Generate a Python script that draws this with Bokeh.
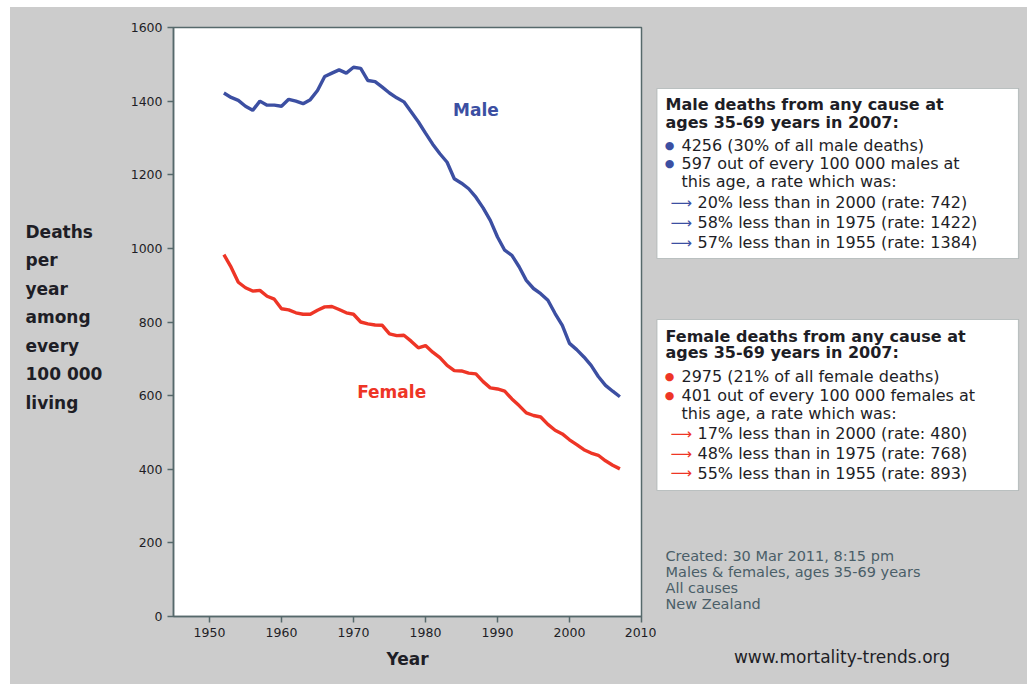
from bokeh.plotting import figure
from bokeh.layouts import row
from bokeh.models import Label, BoxAnnotation, FixedTicker, Range1d, LinearAxis
from bokeh.embed import file_html
from bokeh.resources import INLINE

# ---------------- data ----------------
years = list(range(1952, 2008))
male = [1422, 1410, 1402, 1386, 1375, 1400, 1389, 1389, 1386, 1405,
        1400, 1393, 1404, 1429, 1467, 1476, 1485, 1476, 1492, 1489,
        1456, 1453, 1438, 1422, 1409, 1398, 1371, 1344, 1313, 1283,
        1257, 1234, 1189, 1177, 1162, 1139, 1110, 1076, 1031, 995,
        981, 950, 913, 891, 877, 859, 823, 791, 742, 725,
        705, 682, 652, 628, 612, 597]
female = [983, 949, 908, 893, 884, 886, 870, 862, 836, 833,
          825, 821, 821, 832, 841, 842, 834, 825, 821, 800,
          795, 792, 791, 768, 763, 764, 748, 730, 736, 718,
          703, 682, 668, 667, 661, 659, 638, 621, 618, 612,
          591, 573, 553, 546, 542, 522, 506, 496, 480, 467,
          453, 444, 438, 423, 411, 401]
x_ticks = [1950, 1960, 1970, 1980, 1990, 2000, 2010]
y_ticks = [0, 200, 400, 600, 800, 1000, 1200, 1400, 1600]
y_label_lines = ["Deaths", "per", "year", "among", "every", "100 000", "living"]
male_box = ["Male deaths from any cause at", "ages 35-69 years in 2007:",
            "4256 (30% of all male deaths)", "597 out of every 100 000 males at",
            "this age, a rate which was:",
            "20% less than in 2000 (rate: 742)",
            "58% less than in 1975 (rate: 1422)",
            "57% less than in 1955 (rate: 1384)"]
female_box = ["Female deaths from any cause at", "ages 35-69 years in 2007:",
              "2975 (21% of all female deaths)", "401 out of every 100 000 females at",
              "this age, a rate which was:",
              "17% less than in 2000 (rate: 480)",
              "48% less than in 1975 (rate: 768)",
              "55% less than in 1955 (rate: 893)"]
footer = ["Created: 30 Mar 2011, 8:15 pm", "Males & females, ages 35-69 years",
          "All causes", "New Zealand"]
website = "www.mortality-trends.org"

# ---------------- style ----------------
FONT = "DejaVu Sans"
BG = "#cccccc"
AX = "#56696b"
BLUE = "#3c4fa2"
RED = "#ee3526"
DARK = "#1e1e26"

X0, Y0 = 10, 7          # page position of the drawing
HT = 677
LW, CW = 110, 536       # widths of left label panel and chart
CX0 = X0 + LW           # chart left on page (120)
RX0 = CX0 + CW          # right panel left on page (656)
RW = 1027 - RX0
FL, FT, FR, FB = 173, 27, 641, 616   # frame on page
BT, BB = FT - Y0, Y0 + HT - FB       # top / bottom borders


def panel(x0, w):
    f = figure(width=w, height=HT, output_backend="svg", toolbar_location=None,
               x_range=Range1d(x0, x0 + w), y_range=Range1d(FB, FT),
               x_axis_type=None, y_axis_type=None,
               min_border_left=0, min_border_right=0,
               min_border_top=BT, min_border_bottom=BB)
    f.border_fill_color = BG
    f.background_fill_color = None
    f.outline_line_color = None
    f.xgrid.visible = False
    f.ygrid.visible = False
    return f


def lab(f, text, px, py, size, color, bold=False, align="left"):
    f.add_layout(Label(x=px, y=py, text=text, text_font=FONT, text_font_size=f"{size}px",
                       text_color=color, text_font_style="bold" if bold else "normal",
                       text_align=align, text_baseline="middle"))


# ---------------- chart ----------------
p = figure(width=CW, height=HT, output_backend="svg", toolbar_location=None,
           x_range=Range1d(1945, 2010), y_range=Range1d(0, 1600),
           min_border_left=FL - CX0, min_border_top=BT,
           min_border_right=RX0 - FR, min_border_bottom=BB)
p.border_fill_color = BG
p.background_fill_color = "white"
p.outline_line_color = AX
p.outline_line_width = 1.5
p.xgrid.visible = False
p.ygrid.visible = False

for ax in (p.xaxis[0], p.yaxis[0]):
    ax.axis_line_color = AX
    ax.axis_line_width = 1.5
    ax.major_tick_line_color = AX
    ax.major_tick_line_width = 1.5
    ax.major_tick_out = 6
    ax.major_tick_in = 0
    ax.minor_tick_line_color = None
    ax.major_label_text_font = FONT
    ax.major_label_text_font_size = "12.5px"
    ax.major_label_text_color = DARK
    ax.major_label_standoff = 5
p.xaxis.ticker = FixedTicker(ticks=x_ticks)
p.yaxis.ticker = FixedTicker(ticks=y_ticks)
p.xaxis.axis_label = "Year"
p.xaxis.axis_label_text_font = FONT
p.xaxis.axis_label_text_font_size = "17px"
p.xaxis.axis_label_text_font_style = "bold"
p.xaxis.axis_label_text_color = DARK
p.xaxis.axis_label_standoff = 9

p.line(years, male, line_width=3.4, color=BLUE)
p.line(years, female, line_width=3.4, color=RED)

p.add_layout(Label(x=1987, y=1375, text="Male", text_font=FONT, text_font_size="17px",
                   text_font_style="bold", text_color=BLUE, text_align="center",
                   text_baseline="middle"))
p.add_layout(Label(x=1975.3, y=609, text="Female", text_font=FONT, text_font_size="17px",
                   text_font_style="bold", text_color=RED, text_align="center",
                   text_baseline="middle"))

# ---------------- left panel: y axis title ----------------
left = panel(X0, LW)
for i, t in enumerate(y_label_lines):
    lab(left, t, 25, 231 + i * 28.5, 17, DARK, bold=True)

# ---------------- right panel: info boxes & footer ----------------
right = panel(RX0, RW)


def info_box(lines, top, bottom, color, ys):
    right.add_layout(BoxAnnotation(left=RX0 + 0.5, right=1018, top=top, bottom=bottom,
                                   fill_color="white", fill_alpha=1.0,
                                   line_color=AX, line_width=1.2))
    lab(right, lines[0], 665, ys[0], 16, DARK, bold=True)
    lab(right, lines[1], 665, ys[1], 16, DARK, bold=True)
    lab(right, "\u25CF", 669, ys[2], 11, color, align="center")
    lab(right, lines[2], 681, ys[2], 16, DARK)
    lab(right, "\u25CF", 669, ys[3], 11, color, align="center")
    lab(right, lines[3], 681, ys[3], 16, DARK)
    lab(right, lines[4], 681, ys[4], 16, DARK)
    for k in range(3):
        lab(right, "\u27F6", 670, ys[5 + k], 15, color)
        lab(right, lines[5 + k], 697, ys[5 + k], 16, DARK)


info_box(male_box, 88, 258, BLUE, [104, 121.5, 144.5, 162.5, 181, 202, 222, 242])
info_box(female_box, 319, 490, RED, [335.5, 352, 375.5, 395, 412.5, 433, 453, 472.5])

for i, t in enumerate(footer):
    lab(right, t, 665, 555 + i * 16.3, 14.5, "#4a5e68")

web_axis = LinearAxis(ticker=FixedTicker(ticks=[]), axis_line_color=None,
                      major_tick_line_color=None, minor_tick_line_color=None,
                      major_label_text_font_size="0px",
                      axis_label=website, axis_label_text_font=FONT,
                      axis_label_text_font_size="17px", axis_label_text_color=DARK,
                      axis_label_text_font_style="normal", axis_label_standoff=30)
right.add_layout(web_axis, "below")

layout = row(left, p, right, spacing=0, styles={"background-color": BG})
layout.margin = (Y0, 0, 0, X0)

open("out.html", "w").write(file_html(layout, INLINE))
